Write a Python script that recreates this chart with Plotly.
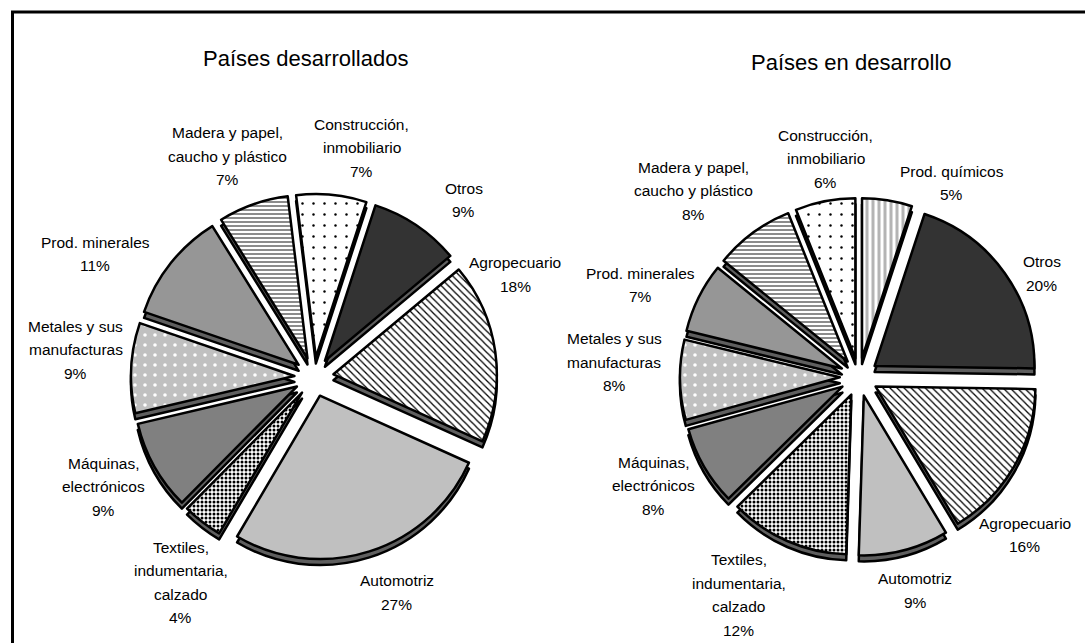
import math
import plotly.graph_objects as go

W, H = 1085, 643

# ---------------- data ----------------
dev_title = "Países desarrollados"
dev_categories = ["Otros", "Agropecuario", "Automotriz",
                  "Textiles, indumentaria, calzado", "Máquinas, electrónicos",
                  "Metales y sus manufacturas", "Prod. minerales",
                  "Madera y papel, caucho y plástico", "Construcción, inmobiliario"]
dev_values = [9, 18, 27, 4, 9, 9, 11, 7, 7]

emg_title = "Países en desarrollo"
emg_categories = ["Prod. químicos", "Otros", "Agropecuario", "Automotriz",
                  "Textiles, indumentaria, calzado", "Máquinas, electrónicos",
                  "Metales y sus manufacturas", "Prod. minerales",
                  "Madera y papel, caucho y plástico", "Construcción, inmobiliario"]
emg_values = [5, 20, 16, 9, 12, 8, 8, 7, 8, 6]

# label line breaks (text only)
label_lines = {
    "Otros": ["Otros"],
    "Agropecuario": ["Agropecuario"],
    "Automotriz": ["Automotriz"],
    "Textiles, indumentaria, calzado": ["Textiles,", "indumentaria,", "calzado"],
    "Máquinas, electrónicos": ["Máquinas,", "electrónicos"],
    "Metales y sus manufacturas": ["Metales y sus", "manufacturas"],
    "Prod. minerales": ["Prod. minerales"],
    "Madera y papel, caucho y plástico": ["Madera y papel,", "caucho y plástico"],
    "Construcción, inmobiliario": ["Construcción,", "inmobiliario"],
    "Prod. químicos": ["Prod. químicos"],
}

# ---------------- styles ----------------
# category -> (base color, pattern shape, fg color, bg color, size, solidity)
styles = {
    "Otros": ("#333333", "", "#333333", "#333333", 8, 0.3),
    "Agropecuario": ("#ffffff", "\\", "#000000", "#ffffff", 5, 0.25),
    "Automotriz": ("#c0c0c0", "", "#c0c0c0", "#c0c0c0", 8, 0.3),
    "Textiles, indumentaria, calzado": ("#ffffff", ".", "#000000", "#ffffff", 4, 0.45),
    "Máquinas, electrónicos": ("#808080", "", "#808080", "#808080", 8, 0.3),
    "Metales y sus manufacturas": ("#c0c0c0", ".", "#ffffff", "#c0c0c0", 10, 0.1),
    "Prod. minerales": ("#969696", "", "#969696", "#969696", 8, 0.3),
    "Madera y papel, caucho y plástico": ("#ffffff", "-", "#8c8c8c", "#ffffff", 4, 0.5),
    "Construcción, inmobiliario": ("#ffffff", ".", "#000000", "#ffffff", 11, 0.04),
    "Prod. químicos": ("#ffffff", "|", "#b4b4b4", "#ffffff", 6, 0.5),
}

FONT = "Liberation Sans, Arial, sans-serif"
LABEL_SIZE = 15.5
LINE_STEP = 23.5
TITLE_SIZE = 22
PULL = 0.12
DEPTH = 6  # px thickness of the 3D edge

# pie layout (pixel centre, outer radius incl. pull, start rotation, label placement)
pies = [
    dict(title=dev_title, cats=dev_categories, vals=dev_values,
         cx=314, cy=377, R=183, rot=18, title_xy=(305, 59),
         dth=[6.2, -19.1, -3.3, -4.6, 1.7, 3.7, -9.2, -1.9, 6.3],
         dist=[232, 226, 231, 245, 237, 240, 251, 237, 234]),
    dict(title=emg_title, cats=emg_categories, vals=emg_values,
         cx=859, cy=377, R=179, rot=0, title_xy=(851, 63),
         dth=[16.5, 5.9, 13.6, -0.2, 5.2, 2.1, 4.4, -3.5, -5.3, 2.2],
         dist=[215, 210, 229, 221, 249, 232, 245, 237, 249, 221]),
]


def domain(cx, cy, R, dy=0):
    return dict(x=[(cx - R) / W, (cx + R) / W],
                y=[1 - (cy + dy + R) / H, 1 - (cy + dy - R) / H])


fig = go.Figure()

# 3D edge (lower copies)
for p in pies:
    fig.add_trace(go.Pie(
        labels=p["cats"], values=p["vals"], sort=False, direction="clockwise",
        rotation=p["rot"], pull=PULL, textinfo="none", hoverinfo="skip",
        domain=domain(p["cx"], p["cy"], p["R"], DEPTH),
        marker=dict(colors=["#5f5f5f"] * len(p["cats"]),
                    line=dict(color="#000000", width=2.5)),
        showlegend=False))

# top faces
for p in pies:
    st = [styles[c] for c in p["cats"]]
    fig.add_trace(go.Pie(
        labels=p["cats"], values=p["vals"], sort=False, direction="clockwise",
        rotation=p["rot"], pull=PULL, textinfo="none",
        domain=domain(p["cx"], p["cy"], p["R"]),
        marker=dict(colors=[s[0] for s in st],
                    line=dict(color="#000000", width=2.5),
                    pattern=dict(shape=[s[1] for s in st],
                                 fgcolor=[s[2] for s in st],
                                 bgcolor=[s[3] for s in st],
                                 size=[s[4] for s in st],
                                 solidity=[s[5] for s in st],
                                 fillmode="replace")),
        showlegend=False))

annotations = []
for p in pies:
    tot = sum(p["vals"])
    cum = 0
    for i, (c, v) in enumerate(zip(p["cats"], p["vals"])):
        mid = p["rot"] + (cum + v / 2) / tot * 360
        cum += v
        ang = math.radians(mid + p["dth"][i])
        px = p["cx"] + p["dist"][i] * math.sin(ang)
        py = p["cy"] - p["dist"][i] * math.cos(ang)
        pct = round(v / tot * 100)
        lines = label_lines[c] + [f"{pct}%"]
        n = len(lines)
        for k, line in enumerate(lines):
            ly = py + (k - (n - 1) / 2) * LINE_STEP
            annotations.append(dict(
                x=px / W, y=1 - ly / H, xref="paper", yref="paper",
                text=line, showarrow=False,
                xanchor="center", yanchor="middle", align="center",
                font=dict(family=FONT, size=LABEL_SIZE, color="#000000")))
    tx, ty = p["title_xy"]
    annotations.append(dict(
        x=tx / W, y=1 - ty / H, xref="paper", yref="paper", text=p["title"],
        showarrow=False, xanchor="center", yanchor="middle",
        font=dict(family=FONT, size=TITLE_SIZE, color="#000000")))

fig.update_layout(
    width=W, height=H,
    margin=dict(l=0, r=0, t=0, b=0),
    paper_bgcolor="#ffffff", plot_bgcolor="#ffffff",
    font=dict(family=FONT, color="#000000"),
    annotations=annotations,
    shapes=[dict(type="rect", xref="paper", yref="paper",
                 x0=12.5 / W, x1=1.02, y0=-0.02, y1=1 - 12 / H,
                 line=dict(color="#000000", width=3))],
)

fig.write_html("out.html", config={"displayModeBar": False},
               post_script="document.body.style.margin='0px';")
